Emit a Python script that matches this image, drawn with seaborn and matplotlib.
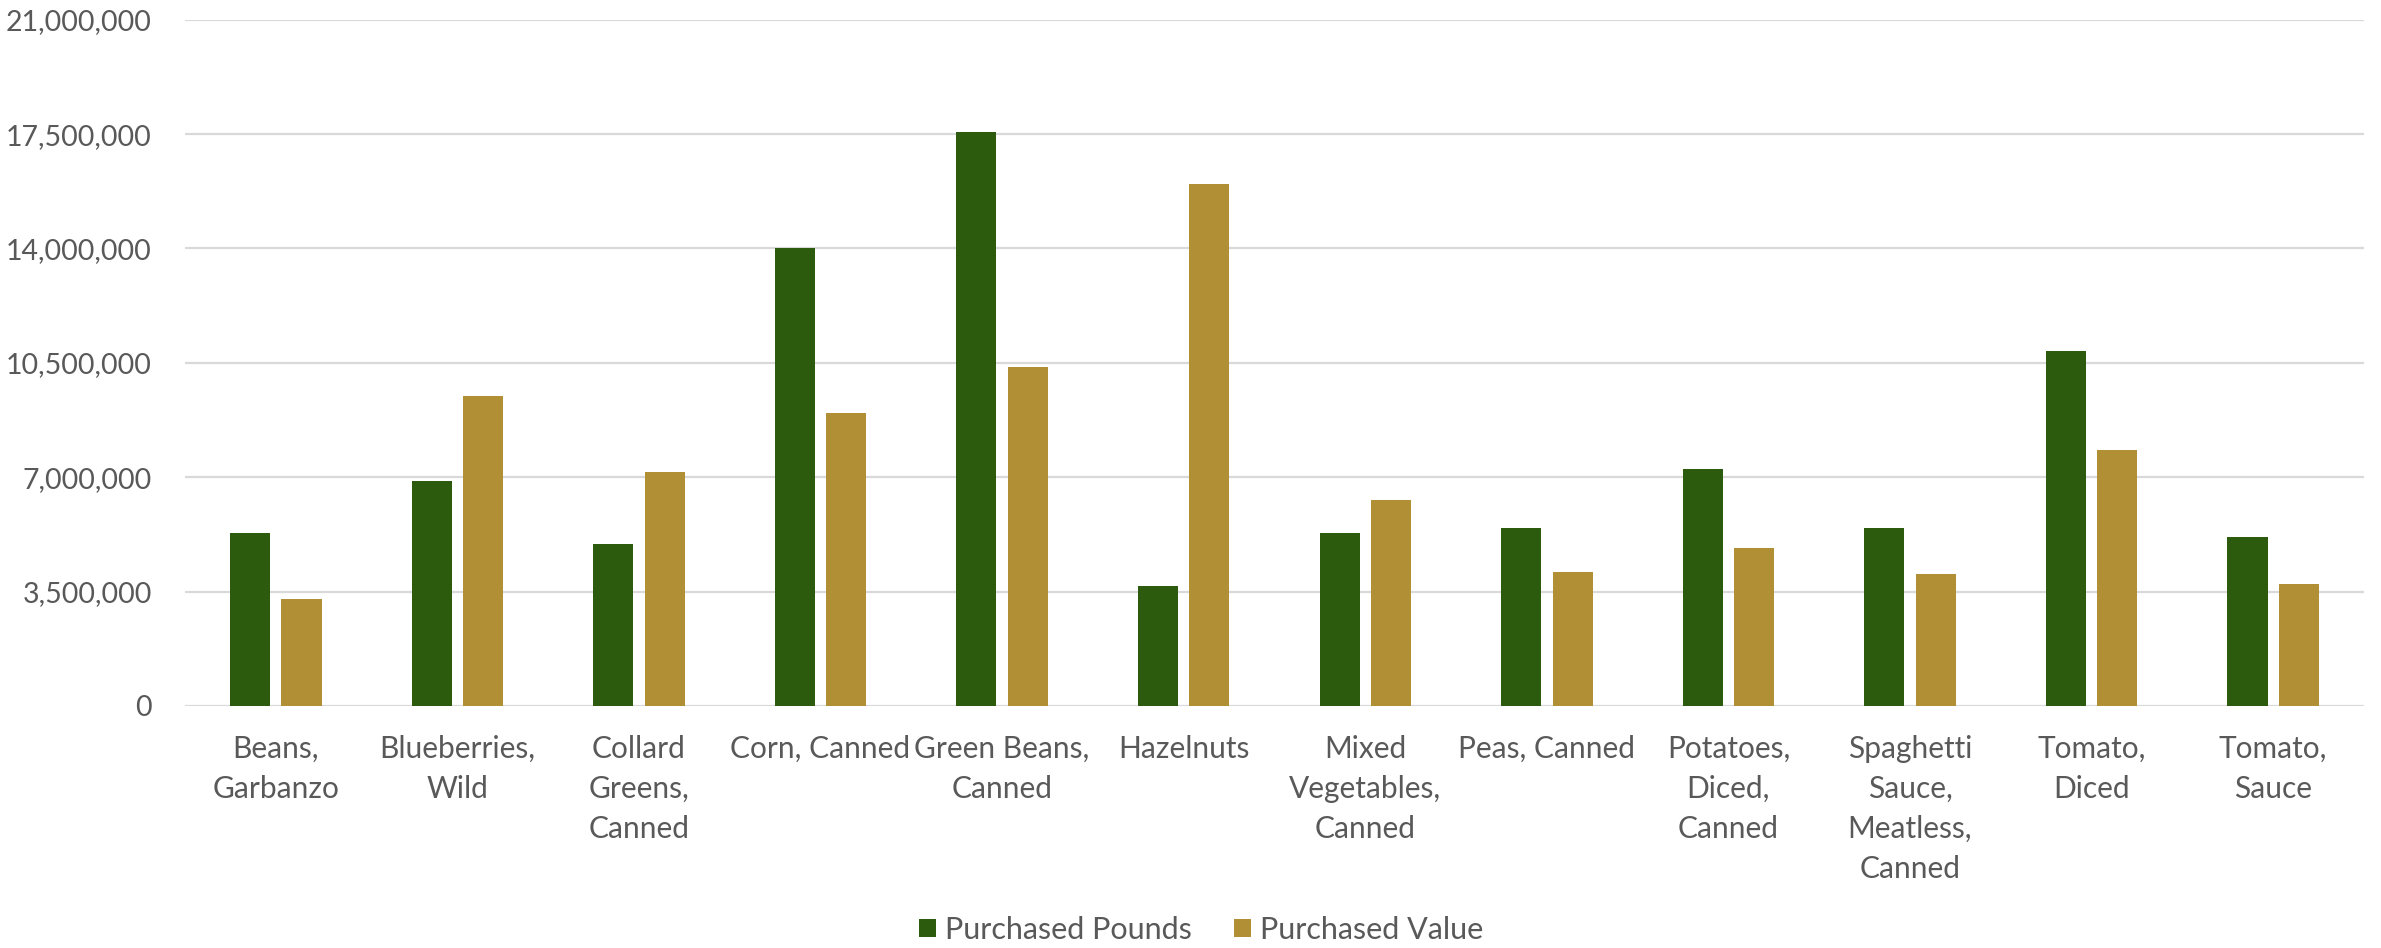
import matplotlib
matplotlib.use("Agg")
import matplotlib.pyplot as plt
import matplotlib.ticker as mticker
import seaborn as sns
import pandas as pd

categories = ["Beans, Garbanzo", "Blueberries, Wild", "Collard Greens, Canned", "Corn, Canned",
              "Green Beans, Canned", "Hazelnuts", "Mixed Vegetables, Canned", "Peas, Canned",
              "Potatoes, Diced, Canned", "Spaghetti Sauce, Meatless, Canned", "Tomato, Diced",
              "Tomato, Sauce"]
tick_labels = ["Beans,\nGarbanzo", "Blueberries,\nWild", "Collard\nGreens,\nCanned", "Corn, Canned",
               "Green Beans,\nCanned", "Hazelnuts", "Mixed\nVegetables,\nCanned", "Peas, Canned",
               "Potatoes,\nDiced,\nCanned", "Spaghetti\nSauce,\nMeatless,\nCanned", "Tomato,\nDiced",
               "Tomato,\nSauce"]
purchased_pounds = [5307000, 6891000, 4945000, 14012000, 17578000, 3675000,
                    5283000, 5453000, 7254000, 5453000, 10866000, 5158000]
purchased_value = [3288000, 9491000, 7145000, 8959000, 10373000, 15970000,
                   6311000, 4086000, 4848000, 4049000, 7834000, 3734000]
series_names = ["Purchased Pounds", "Purchased Value"]
yticks = [0, 3500000, 7000000, 10500000, 14000000, 17500000, 21000000]

df = pd.DataFrame({
    "category": categories * 2,
    "series": [series_names[0]] * len(categories) + [series_names[1]] * len(categories),
    "value": purchased_pounds + purchased_value,
})

sns.set_theme(style="white")
plt.rcParams["font.family"] = ["Lato", "DejaVu Sans"]

fig = plt.figure(figsize=(23.81, 9.48), dpi=100)
ax = fig.add_axes([185 / 2381, 1 - 706 / 948, (2364 - 185) / 2381, (706 - 19.7) / 948])

palette = {series_names[0]: "#2C5B0E", series_names[1]: "#B08F35"}
sns.barplot(data=df, x="category", y="value", hue="series", order=categories,
            hue_order=series_names, palette=palette, width=0.566, gap=0.22,
            saturation=1, ax=ax, linewidth=0)

ax.set_ylim(0, 21000000)
ax.set_xlim(-0.5, len(categories) - 0.5)
ax.set_yticks(yticks)
ax.yaxis.set_major_formatter(mticker.FuncFormatter(lambda v, p: f"{v:,.0f}"))
ax.set_xticks(range(len(categories)))
ax.set_xticklabels(tick_labels, linespacing=1.52)
ax.set_xlabel("")
ax.set_ylabel("")
ax.tick_params(axis="y", length=0, pad=24, labelsize=20.5, labelcolor="#595959")
ax.tick_params(axis="x", length=0, pad=21, labelsize=21.5, labelcolor="#595959")
ax.yaxis.grid(True, color="#d9d9d9", linewidth=1.6)
ax.set_axisbelow(True)
for s in ax.spines.values():
    s.set_visible(False)

handles, labels = ax.get_legend_handles_labels()
if ax.get_legend() is not None:
    ax.get_legend().remove()
fig.legend(handles, labels, loc="center", bbox_to_anchor=(0.5045, 0.019), ncol=2,
           frameon=False, fontsize=22, labelcolor="#595959", handlelength=0.55,
           handleheight=0.55, handletextpad=0.3, columnspacing=1.4)

fig.savefig("out.png", dpi=100)
